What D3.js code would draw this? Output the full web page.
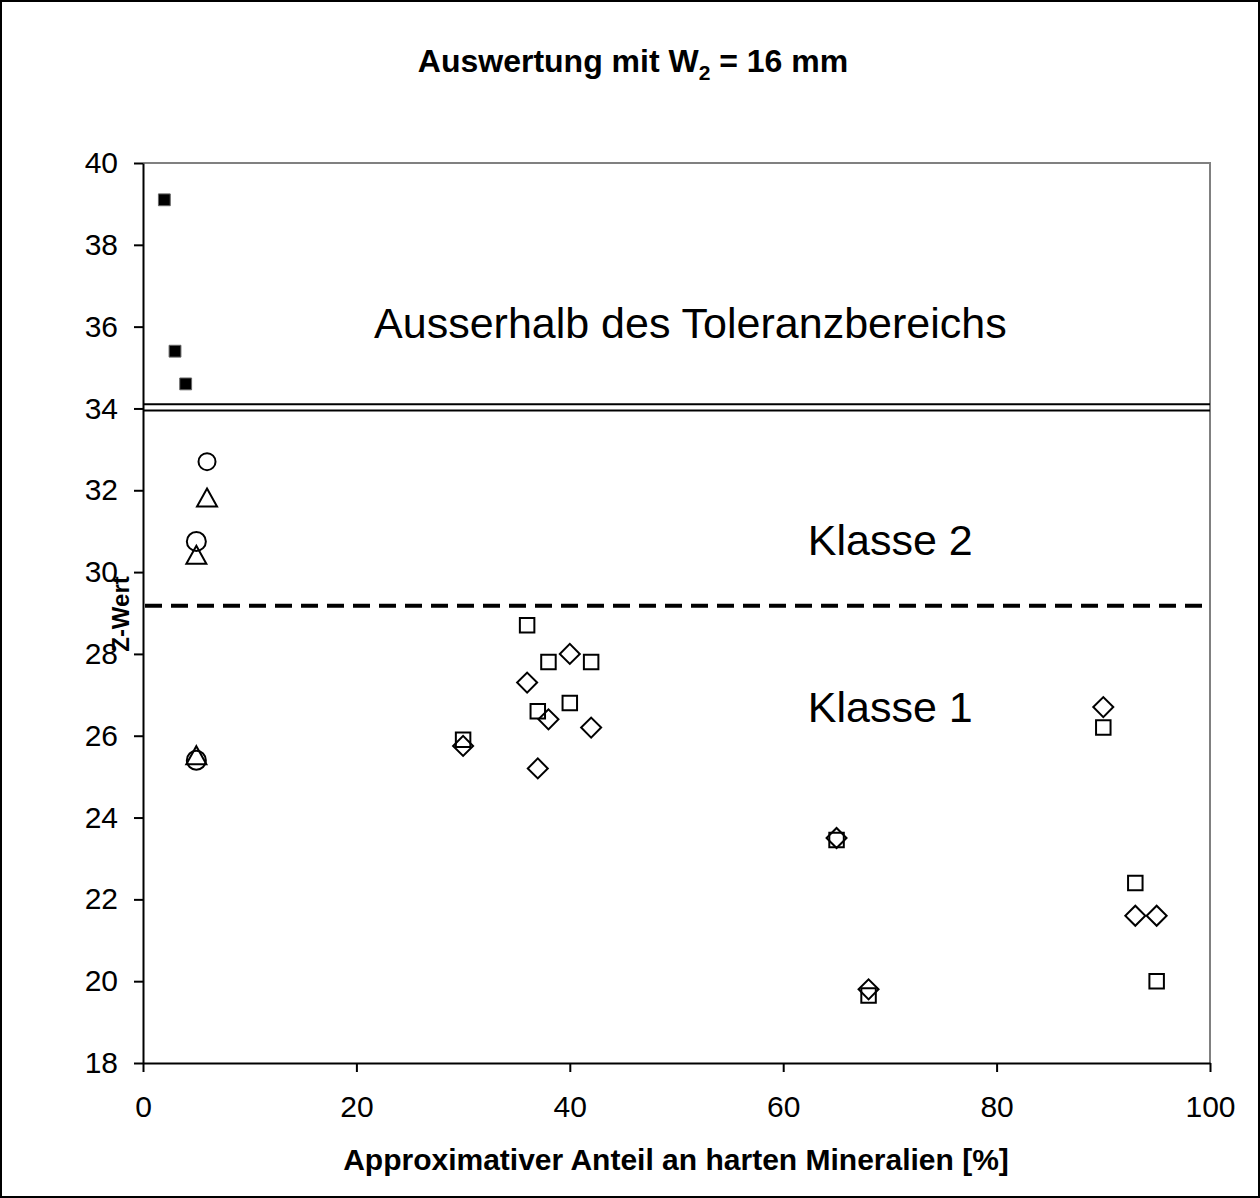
<!DOCTYPE html>
<html>
<head>
<meta charset="utf-8">
<script src="https://cdn.jsdelivr.net/npm/d3@7"></script>
<style>
  body { margin: 0; background: #fff; }
  svg { display: block; font-family: 'Liberation Sans', Arial, sans-serif; }
</style>
</head>
<body>
<svg class="canvas" width="1260" height="1198"></svg>
<script>
// data series: [x %, Z-Wert]
const outside = [[2, 39.1], [3, 35.4], [4, 34.6]];
const circles = [[6, 32.7], [5, 30.75], [5, 25.4]];
const triangles = [[6, 31.8], [5, 30.4], [5, 25.5]];
const squares = [[36, 28.7], [38, 27.8], [42, 27.8], [37, 26.6], [40, 26.8], [30, 25.9],
    [65, 23.45], [68, 19.65], [90, 26.2], [93, 22.4], [95, 20.0]];
const diamonds = [[36, 27.3], [40, 28.0], [38, 26.4], [42, 26.2], [37, 25.2], [30, 25.75],
    [65, 23.5], [68, 19.8], [90, 26.7], [93, 21.6], [95, 21.6]];
const xTicks = [0, 20, 40, 60, 80, 100];
const yTicks = [18, 20, 22, 24, 26, 28, 30, 32, 34, 36, 38, 40];
const toleranceLines = [34.1, 33.95];
const classBorder = 29.18;
const zoneLabels = [
    { text: 'Ausserhalb des Toleranzbereichs', x: 51.3, y: 35.72, anchor: 'middle' },
    { text: 'Klasse 2', x: 62.3, y: 30.42, anchor: 'start' },
    { text: 'Klasse 1', x: 62.3, y: 26.34, anchor: 'start' }
];

const svg = d3.select('.canvas');
const W = 1260, H = 1198;
const pLeft = 143, pRight = 1210, pTop = 163, pBottom = 1063;

// outer frame
svg.append('rect')
    .attr('x', 1).attr('y', 1).attr('width', W - 2).attr('height', H - 2)
    .attr('fill', 'none').attr('stroke', '#000').attr('stroke-width', 2);

const xScale = d3.scaleLinear().domain([0, 100]).range([pLeft, pRight]);
const yScale = d3.scaleLinear().domain([18, 40]).range([pBottom, pTop]);

// plot area border (grey top/right)
svg.append('path')
    .attr('d', `M${pLeft},${pTop}H${pRight}V${pBottom}`)
    .attr('fill', 'none').attr('stroke', '#808080').attr('stroke-width', 2);

// axes
const xAxis = d3.axisBottom(xScale).tickValues(xTicks).tickSize(9).tickSizeOuter(0).tickPadding(24);
const yAxis = d3.axisLeft(yScale).tickValues(yTicks).tickSize(9).tickSizeOuter(0).tickPadding(16);
const gx = svg.append('g').attr('transform', `translate(0, ${pBottom})`).call(xAxis);
const gy = svg.append('g').attr('transform', `translate(${pLeft}, 0)`).call(yAxis);
[gx, gy].forEach((g) => {
    g.select('.domain').attr('stroke', '#000').attr('stroke-width', 2);
    g.selectAll('.tick line').attr('stroke', '#000').attr('stroke-width', 2);
    g.selectAll('.tick text')
        .attr('fill', '#000')
        .style('font-size', '30px')
        .style('font-family', "'Liberation Sans', Arial, sans-serif");
});

// tolerance double line and class border
svg.selectAll('line.tol')
    .data(toleranceLines)
    .enter()
    .append('line')
    .attr('class', 'tol')
    .attr('x1', pLeft).attr('x2', pRight)
    .attr('y1', (d) => yScale(d)).attr('y2', (d) => yScale(d))
    .attr('stroke', '#000').attr('stroke-width', 2);

svg.append('line')
    .attr('x1', pLeft + 2).attr('x2', pRight)
    .attr('y1', yScale(classBorder)).attr('y2', yScale(classBorder))
    .attr('stroke', '#000').attr('stroke-width', 4)
    .attr('stroke-dasharray', '17,9');

// zone labels
svg.selectAll('text.zone')
    .data(zoneLabels)
    .enter()
    .append('text')
    .attr('class', 'zone')
    .attr('x', (d) => xScale(d.x))
    .attr('y', (d) => yScale(d.y))
    .attr('text-anchor', (d) => d.anchor)
    .style('font-size', '43px')
    .text((d) => d.text);

// markers
const sym = (type, size) => d3.symbol().type(type).size(size)();

svg.selectAll('path.filled')
    .data(outside)
    .enter()
    .append('path')
    .attr('class', 'filled')
    .attr('transform', (d) => `translate(${xScale(d[0])}, ${yScale(d[1])})`)
    .attr('d', sym(d3.symbolSquare, 140))
    .attr('fill', '#000').attr('stroke', '#666').attr('stroke-width', 1);

svg.selectAll('path.sq')
    .data(squares)
    .enter()
    .append('path')
    .attr('class', 'sq')
    .attr('transform', (d) => `translate(${xScale(d[0])}, ${yScale(d[1])})`)
    .attr('d', sym(d3.symbolSquare, 210))
    .attr('fill', 'none').attr('stroke', '#000').attr('stroke-width', 2);

svg.selectAll('path.dia')
    .data(diamonds)
    .enter()
    .append('path')
    .attr('class', 'dia')
    .attr('transform', (d) => `translate(${xScale(d[0])}, ${yScale(d[1])}) rotate(45)`)
    .attr('d', sym(d3.symbolSquare, 200))
    .attr('fill', 'none').attr('stroke', '#000').attr('stroke-width', 2);

svg.selectAll('circle.circ')
    .data(circles)
    .enter()
    .append('circle')
    .attr('class', 'circ')
    .attr('cx', (d) => xScale(d[0]))
    .attr('cy', (d) => yScale(d[1]))
    .attr('r', (d, i) => (i === 0 ? 8.5 : 9.5))
    .attr('fill', 'none').attr('stroke', '#000').attr('stroke-width', 2);

svg.selectAll('path.tri')
    .data(triangles)
    .enter()
    .append('path')
    .attr('class', 'tri')
    .attr('transform', (d) => `translate(${xScale(d[0])}, ${yScale(d[1])})`)
    .attr('d', 'M0,-10L10,8H-10Z')
    .attr('fill', 'none').attr('stroke', '#000').attr('stroke-width', 2);

// titles
const title = svg.append('text')
    .attr('x', 633).attr('y', 72)
    .attr('text-anchor', 'middle')
    .style('font-size', '32px').style('font-weight', 'bold');
title.append('tspan').text('Auswertung mit W');
title.append('tspan').attr('dy', 8).style('font-size', '21px').text('2');
title.append('tspan').attr('dy', -8).text(' = 16 mm');

svg.append('text')
    .attr('x', 676).attr('y', 1170)
    .attr('text-anchor', 'middle')
    .style('font-size', '30px').style('font-weight', 'bold')
    .text('Approximativer Anteil an harten Mineralien [%]');

svg.append('text')
    .attr('transform', 'translate(129, 614) rotate(-90)')
    .attr('text-anchor', 'middle')
    .style('font-size', '24px').style('font-weight', 'bold')
    .text('Z-Wert');
</script>
</body>
</html>
